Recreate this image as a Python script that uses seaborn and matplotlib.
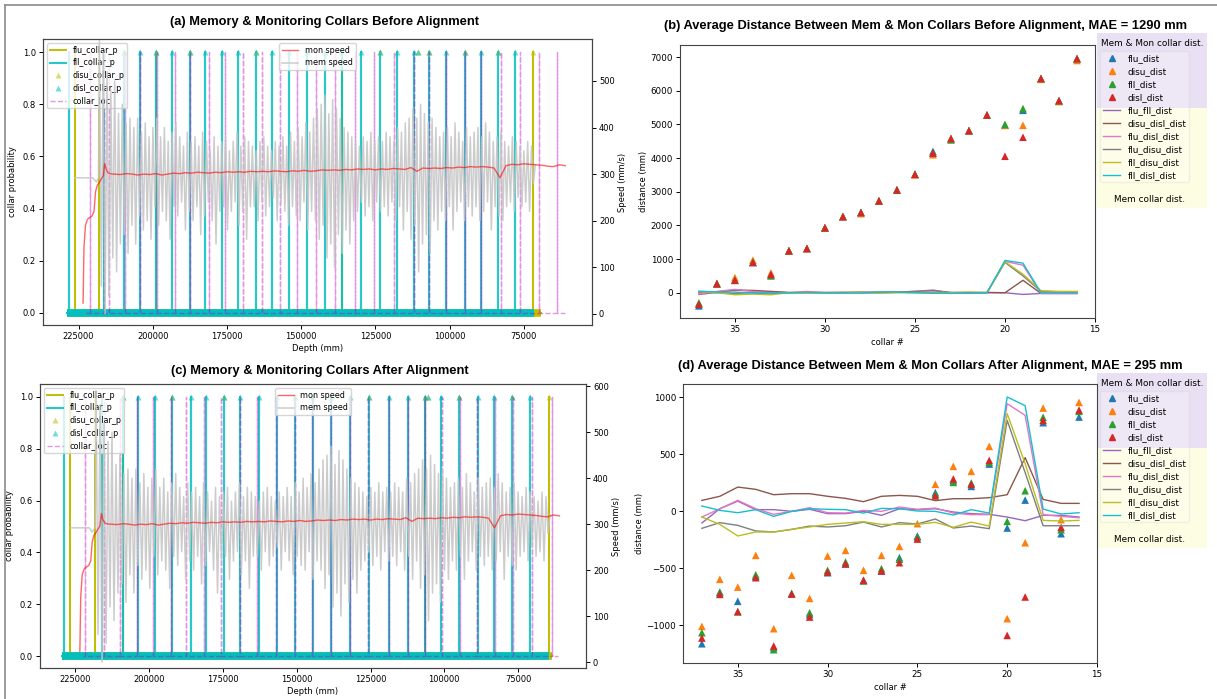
import numpy as np
import pandas as pd
import matplotlib
matplotlib.use("Agg")
import matplotlib.pyplot as plt
import seaborn as sns
from matplotlib.patches import Rectangle
from matplotlib.lines import Line2D

# ------------------------------------------------------------------ data
# Panel (a): collar detections before alignment (depth, mm)
flu_a = [226300, 218200, 198900, 136300, 71900]
fll_a = [228300, 216500, 209700, 204400, 198900, 193400, 187600, 182400, 176800,
         171200, 165300, 159700, 154100, 148200, 142100, 136300, 130000, 123600,
         117600, 112000, 106900, 101300, 94900, 89500, 83600, 77900]
loc_a = [221300, 216500, 214800, 209400, 204400, 198600, 192600, 187600, 181200,
         175600, 169600, 163200, 157300, 151300, 144900, 138700, 132000, 125300,
         118700, 112000, 106900, 101300, 94900, 89300, 82800, 76400, 69900, 63700]
top_disl_a = [209700, 204400, 198900, 193400, 187600, 182400, 176800, 171200, 165300,
              159700, 154100, 148200, 142100, 136300, 130000, 123600, 117600, 112000,
              110800, 106900, 101300, 94900, 89500, 83600, 77900]
top_disu_a = [209700, 198900, 187600, 165300, 142100, 123600, 110800, 106900, 94900,
              83600, 71900]
ext_flu_a = [229000, 69300]
ext_fll_a = [229000, 71600]
ext_loc_a = [222500, 61000]

# Panel (c): collar detections after alignment (depth, mm)
flu_c = [226700, 218200, 209000, 106500, 64500]
fll_c = [228960, 216000, 209000, 203700, 198000, 192300, 186000, 180700, 174800,
         169100, 162900, 156800, 150600, 144500, 138400, 132000, 125500, 118900,
         112200, 106500, 101200, 95200, 88700, 83300, 77000, 70900]
loc_c = [221600, 215400, 209900, 204200, 198800, 192600, 187400, 181300, 175700,
         169100, 163500, 157100, 150600, 144700, 138400, 132000, 125800, 118900,
         112200, 106600, 100900, 94800, 89100, 82900, 76600, 70400, 63400]
top_disl_c = [209000, 203700, 198000, 192300, 186000, 180700, 174800, 169100, 162900,
              156800, 150600, 144500, 138400, 132000, 125500, 118900, 112200, 106500,
              105600, 101200, 95200, 88700, 83300, 77000, 70900]
top_disu_c = [209000, 192300, 174800, 150600, 125500, 106500, 105600, 95200, 77000,
              64500]
ext_flu_c = [229600, 63600]
ext_fll_c = [229600, 64600]
ext_loc_c = [222500, 61500]

# Speeds (mm/s)
mon_head_depth = [223500, 223200, 222700, 222000, 221200, 220500, 219800, 219300,
                  218700, 218000, 217300, 216700, 216200, 215700, 215000, 213700]
mon_head_speed = [23, 141, 190, 203, 207, 210, 220, 262, 276, 282, 290, 296, 323,
                  310, 302, 300]
mon_tail_extent = [213000, 61000]
mon_tail_speed = [300, 299, 301, 300, 298, 300, 299, 301, 298, 300,
                  302, 301, 303, 302, 304, 303, 302, 304, 303, 305,
                  304, 305, 304, 306, 305, 306, 305, 307, 306, 305,
                  307, 306, 308, 306, 307, 309, 308, 309, 308, 310,
                  309, 311, 310, 311, 309, 311, 310, 312, 311, 310,
                  314, 306, 313, 312, 313, 312, 314, 313, 315, 314,
                  316, 315, 316, 315, 313, 292, 318, 321, 320, 322,
                  321, 320, 319, 317, 316, 320, 318]

mem_flat_depth_a = [226300, 220300, 219000, 218300]
mem_flat_depth_c = [226700, 220300, 219400, 218300]
mem_flat_speed = [292, 292, 283, 292]
mem_noise_extent_a = [218000, 71100]
mem_noise_extent_c = [218000, 64200]
mem_noise = [
    590, 60, 560, 0, 520, 40, 480, 120, 500, 90,
    430, 150, 450, 170, 410, 130, 420, 190, 400, 150,
    420, 210, 390, 180, 410, 200, 380, 160, 400, 230, 420, 190,
    380, 220, 400, 200, 370, 160, 390, 230, 410, 210, 380, 240, 360, 180, 390, 220,
    370, 200, 380, 230, 360, 170, 390, 210, 370, 240, 350, 200, 380, 150, 360, 220,
    370, 230, 380, 180, 350, 220, 370, 240, 390, 190, 360, 220, 380, 160, 370, 230,
    360, 230, 350, 200, 370, 240, 380, 210, 360, 230, 350, 250, 370, 200, 360, 240,
    380, 220, 360, 190, 390, 230, 370, 210, 400, 200, 380, 240, 410, 180, 390, 220,
    420, 200, 440, 160, 450, 190, 470, 120, 430, 150, 460, 100, 440, 170, 420, 130,
    400, 180, 390, 150,
    380, 200, 370, 220, 360, 240, 380, 210, 370, 230, 390, 200, 370, 240, 380, 220,
    370, 230, 390, 210, 380, 240, 370, 200, 400, 230, 390, 180, 410, 220, 420, 160,
    440, 190, 420, 90, 450, 150, 430, 170, 410, 130, 420, 200, 400, 180, 380, 220,
    390, 200, 400, 230, 380, 180, 410, 220, 390, 240, 370, 200, 400, 230, 380, 210,
    390, 230, 400, 200, 380, 220, 410, 240, 390, 180, 370, 230, 380, 210, 390, 200,
    370, 230, 360, 240, 380, 220, 370, 250, 360, 230, 350, 240, 370, 220, 360, 280,
    320]

# Panels (b)/(d): distances per collar (mm)
collars = [37, 36, 35, 34, 33, 32, 31, 30, 29, 28, 27, 26, 25, 24, 23, 22, 21, 20,
           19, 18, 17, 16]

b_flu = [-390, 270, 370, 900, 530, 1250, 1315, 1930, 2265, 2385, 2730, 3055, 3520,
         4200, 4580, 4815, 5280, 4975, 5420, 6360, 5700, 6950]
b_disu = [-330, 280, 450, 970, 590, 1250, 1315, 1930, 2265, 2350, 2730, 3055, 3500,
          4100, 4580, 4815, 5280, 4975, 4975, 6340, 5680, 6900]
b_fll = [-300, 270, 380, 910, 500, 1250, 1315, 1930, 2265, 2385, 2730, 3055, 3520,
         4150, 4540, 4815, 5280, 5000, 5470, 6360, 5700, 6950]
b_disl = [-340, 265, 370, 900, 545, 1245, 1315, 1930, 2260, 2385, 2730, 3055, 3520,
          4150, 4580, 4815, 5280, 4055, 4620, 6370, 5710, 6960]
b_flu_fll = [-50, 10, 80, 50, 20, 0, 10, 0, 0, 0, 0, 10, 10, -10, -20, 0, 0, 0,
             -50, -20, -20, -20]
b_disu_disl = [0, 30, 80, 70, 40, 10, 10, 10, 10, 10, 20, 20, 40, 60, 10, 10, 10, 0,
               370, -20, -20, -20]
b_flu_disl = [-30, 40, 100, 40, 0, 0, 40, 0, 10, 0, 10, 30, 20, 30, -10, -10, 0, 930,
              820, -20, -20, -20]
b_flu_disu = [30, 0, -20, 0, -20, 0, 0, 0, 0, 20, 0, 20, 40, 80, 0, 0, 0, 900, 500,
              40, 30, 30]
b_fll_disu = [30, 0, -60, -40, -60, 0, -10, 0, 10, 10, -10, 0, 0, 0, 0, 20, 0, 920,
              550, 60, 40, 40]
b_fll_disl = [50, 20, 20, -10, -20, 0, 10, 0, 0, -10, 20, 20, 0, -10, -10, 0, 0, 960,
              880, 0, 0, 0]

d_flu = [-1161, -708, -789, -570, -1195, -722, -905, -538, -462, -605, -523, -406,
         -216, 164, 270, 219, 415, -146, 99, 778, -196, 827]
d_disu = [-1009, -596, -664, -386, -1029, -561, -763, -392, -342, -517, -386, -307,
          -108, 237, 395, 351, 570, -941, -275, 906, -73, 956]
d_fll = [-1064, -712, -880, -556, -1213, -720, -889, -517, -444, -610, -503, -420,
         -225, 150, 254, 249, 430, -88, 181, 825, -161, 877]
d_disl = [-1111, -728, -880, -582, -1181, -725, -927, -532, -459, -605, -523, -450,
          -243, 135, 284, 237, 447, -1088, -751, 798, -140, 889]
d_flu_fll = [-102, 23, 90, 15, 15, 0, 18, -20, -20, 0, -35, 23, 15, 23, -6, -20, -26,
             -50, -82, -35, -35, -50]
d_disu_disl = [96, 132, 213, 193, 146, 155, 155, 132, 114, 85, 132, 140, 132, 94, 111,
               111, 120, 146, 471, 105, 70, 70]
d_flu_disl = [-50, 23, 96, 23, -26, 0, 32, -12, -15, 9, 0, 38, 18, 29, -15, -29, -29,
              944, 842, -29, -44, -56]
d_flu_disu = [-149, -99, -123, -172, -181, -158, -129, -137, -126, -94, -137, -99,
              -111, -67, -146, -129, -152, 798, 340, -126, -126, -126]
d_fll_disu = [-50, -114, -216, -181, -181, -158, -137, -114, -102, -91, -114, -114,
              -114, -96, -140, -94, -129, 857, 418, -79, -85, -79]
d_fll_disl = [47, 9, -12, 15, -44, 0, 23, 18, 15, -15, 26, 23, 3, 0, -32, 15, -15,
              1003, 927, 20, -23, -12]

point_labels = ["flu_dist", "disu_dist", "fll_dist", "disl_dist"]
line_labels = ["flu_fll_dist", "disu_disl_dist", "flu_disl_dist", "flu_disu_dist",
               "fll_disu_dist", "fll_disl_dist"]

# ------------------------------------------------------------------ figure
plt.rcParams["font.family"] = ["DejaVu Sans"]
plt.rcParams["font.size"] = 6
W, H = 1217, 699
fig = plt.figure(figsize=(W / 100, H / 100), dpi=100)


def add_ax(l, t, r, b):
    return fig.add_axes([l / W, 1 - b / H, (r - l) / W, (b - t) / H])


def spike_series(positions, extent):
    xs, ys = [extent[0]], [0.0]
    for c in sorted(positions, reverse=True):
        xs += [c, c, c]
        ys += [0.0, 1.0, 0.0]
    xs.append(extent[1])
    ys.append(0.0)
    return xs, ys


def style_axis(a, size=6):
    a.tick_params(labelsize=size, length=3, width=0.7, pad=2)
    for s in a.spines.values():
        s.set_linewidth(0.8)
        s.set_color("#444444")


def collar_panel(ax, flu, fll, loc, top_disl, top_disu, ext_flu, ext_fll, ext_loc,
                 mem_flat_depth, mem_noise_extent, ylim2, yticks2):
    x, y = spike_series(flu, ext_flu)
    h_flu, = ax.plot(x, y, color="y", lw=1.4)
    x, y = spike_series(fll, ext_fll)
    h_fll, = ax.plot(x, y, color="c", lw=1.5, alpha=0.85)
    ax.plot(ext_flu, [0, 0], color="y", lw=5.5, solid_capstyle="butt")
    ax.plot(ext_fll, [0, 0], color="c", lw=5.5, solid_capstyle="butt")
    h_disu, = ax.plot(top_disu, [1.0] * len(top_disu), "^", color="y", alpha=0.55,
                      ms=4, mec="none")
    h_disl, = ax.plot(top_disl, [1.0] * len(top_disl), "^", color="c", alpha=0.55,
                      ms=4, mec="none")
    x, y = spike_series(loc, ext_loc)
    h_loc, = ax.plot(x, y, color="m", ls="--", lw=1.0, alpha=0.42)
    ax.set_ylim(-0.046, 1.05)
    ax.set_xlim(237000, 52000)
    ax.set_ylabel("collar probability", labelpad=4)
    ax.set_xlabel("Depth (mm)", labelpad=2)
    ax.legend([h_flu, h_fll, h_disu, h_disl, h_loc],
              ["flu_collar_p", "fll_collar_p", "disu_collar_p", "disl_collar_p",
               "collar_loc"], loc="upper left", fontsize=5.8, handlelength=2.0,
              borderpad=0.35, labelspacing=0.45)

    ax2 = ax.twinx()
    mem_depth = list(mem_flat_depth) + list(
        np.linspace(mem_noise_extent[0], mem_noise_extent[1], len(mem_noise)))
    mem_speed = list(mem_flat_speed) + list(mem_noise)
    mon_depth = list(mon_head_depth) + list(
        np.linspace(mon_tail_extent[0], mon_tail_extent[1], len(mon_tail_speed)))
    mon_speed = list(mon_head_speed) + list(mon_tail_speed)
    sns.lineplot(x=mem_depth, y=mem_speed, ax=ax2, sort=False, estimator=None,
                 color="#c4c4c4", lw=1.1, alpha=0.85)
    h_mem = ax2.lines[-1]
    sns.lineplot(x=mon_depth, y=mon_speed, ax=ax2, sort=False, estimator=None,
                 color="red", lw=1.0, alpha=0.6)
    h_mon = ax2.lines[-1]
    ax2.set_ylim(*ylim2)
    ax2.set_yticks(yticks2)
    ax2.set_ylabel("Speed (mm/s)", labelpad=2)
    ax2.set_xlim(237000, 52000)
    ax2.legend([h_mon, h_mem], ["mon speed", "mem speed"], loc="upper center",
               fontsize=5.8, handlelength=2.0, borderpad=0.35, labelspacing=0.45)
    style_axis(ax)
    style_axis(ax2)


def dist_panel(ax, pts, lines, ylim, leg_top):
    df_pts = pd.DataFrame({"collar": collars * 4,
                           "distance": sum(pts, []),
                           "kind": sum([[lab] * len(collars) for lab in point_labels], [])})
    pal = sns.color_palette("tab10")
    sns.scatterplot(data=df_pts, x="collar", y="distance", hue="kind",
                    palette=pal[:4], marker="^", s=30, linewidth=0, ax=ax, legend=False)
    handles = []
    for i in range(4):
        handles.append(Line2D([], [], ls="none", marker="^", color=pal[i], ms=4.5))
    for i, vals in enumerate(lines):
        sns.lineplot(x=collars, y=vals, ax=ax, color=pal[4 + i], lw=1.0,
                     sort=False, estimator=None)
        handles.append(ax.lines[-1])
    ax.set_xlim(38.05, 15)
    ax.set_ylim(*ylim)
    ax.set_xlabel("collar #", labelpad=3)
    ax.set_ylabel("distance (mm)", labelpad=2)
    style_axis(ax, 6.3)
    # coloured key background
    fig.add_artist(Rectangle((1097 / W, 1 - (leg_top + 75) / H), 110 / W, 75 / H,
                             transform=fig.transFigure, facecolor="#e9e1f3",
                             edgecolor="none", zorder=-5))
    fig.add_artist(Rectangle((1097 / W, 1 - (leg_top + 175) / H), 110 / W, 100 / H,
                             transform=fig.transFigure, facecolor="#fdfde3",
                             edgecolor="none", zorder=-5))
    fig.text(1101 / W, 1 - (leg_top + 11) / H, "Mem & Mon collar dist.", fontsize=6.4,
             ha="left", va="center")
    fig.text(1150 / W, 1 - (leg_top + 166) / H, "Mem collar dist.", fontsize=6.4,
             ha="center", va="center")
    leg = ax.legend(handles, point_labels + line_labels, loc="upper left",
                    bbox_to_anchor=(1100 / W, 1 - (leg_top + 18) / H),
                    bbox_transform=fig.transFigure, borderaxespad=0, fontsize=6.4,
                    handlelength=2.0, labelspacing=0.45, borderpad=0.3,
                    framealpha=0.25)
    leg.set_zorder(10)


ax_a = add_ax(43, 39, 592, 325)
collar_panel(ax_a, flu_a, fll_a, loc_a, top_disl_a, top_disu_a, ext_flu_a, ext_fll_a,
             ext_loc_a, mem_flat_depth_a, mem_noise_extent_a, (-24, 590),
             [0, 100, 200, 300, 400, 500])

ax_c = add_ax(40, 384, 586, 668)
collar_panel(ax_c, flu_c, fll_c, loc_c, top_disl_c, top_disu_c, ext_flu_c, ext_fll_c,
             ext_loc_c, mem_flat_depth_c, mem_noise_extent_c, (-13, 605),
             [0, 100, 200, 300, 400, 500, 600])

ax_b = add_ax(680, 45, 1095, 318)
dist_panel(ax_b, [b_flu, b_disu, b_fll, b_disl],
           [b_flu_fll, b_disu_disl, b_flu_disl, b_flu_disu, b_fll_disu, b_fll_disl],
           (-750, 7360), 33)

ax_d = add_ax(683, 384, 1097, 663)
dist_panel(ax_d, [d_flu, d_disu, d_fll, d_disl],
           [d_flu_fll, d_disu_disl, d_flu_disl, d_flu_disu, d_fll_disu, d_fll_disl],
           (-1330, 1117), 373)

title_kw = dict(fontsize=9.3, fontweight="bold", family=["Liberation Sans", "DejaVu Sans"],
                ha="center", va="center")
fig.text(324 / W, 1 - 22 / H, "(a) Memory & Monitoring Collars Before Alignment", **title_kw)
fig.text(926 / W, 1 - 26 / H,
         "(b) Average Distance Between Mem & Mon Collars Before Alignment, MAE = 1290 mm",
         **title_kw)
fig.text(320 / W, 1 - 371 / H, "(c) Memory & Monitoring Collars After Alignment", **title_kw)
fig.text(930 / W, 1 - 366 / H,
         "(d) Average Distance Between Mem & Mon Collars After Alignment, MAE = 295 mm",
         **title_kw)

# screenshot frame
fig.add_artist(Line2D([5 / W, 1], [1 - 5 / H, 1 - 5 / H], transform=fig.transFigure,
                      color="#8a8a8a", lw=1.2))
fig.add_artist(Line2D([5 / W, 5 / W], [0, 1 - 5 / H], transform=fig.transFigure,
                      color="#8a8a8a", lw=1.2))

fig.savefig("out.png", dpi=100, facecolor="white")
